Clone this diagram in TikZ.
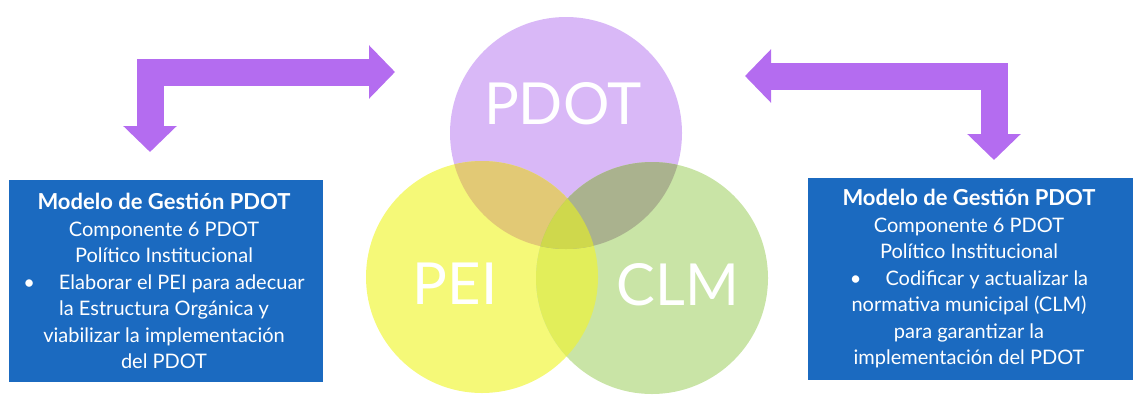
\documentclass[tikz,border=0pt]{standalone}
\usepackage{fontspec}
\setmainfont{Lato}
\usetikzlibrary{arrows.meta}
\definecolor{pP}{HTML}{D9B8F7}
\definecolor{pY}{HTML}{F5F978}
\definecolor{pG}{HTML}{C9E4A6}
\definecolor{pPY}{HTML}{E2C975}
\definecolor{pPG}{HTML}{AAB28E}
\definecolor{pYG}{HTML}{E2EE5A}
\definecolor{pPYG}{HTML}{CFD84C}
\definecolor{arr}{HTML}{B46CF0}
\definecolor{boxblue}{HTML}{1B6AC0}
\tikzset{
  bigarrow/.style={draw=arr, line width=27pt, line join=miter,
    {Triangle[length=26pt,width=52pt]}-{Triangle[length=26pt,width=52pt]}},
  infobox/.style={fill=boxblue, text=white, align=center, font=\fontsize{20}{26.5}\selectfont, inner sep=0pt},
  circlabel/.style={text=white, font=\fontsize{58}{60}\selectfont}
}
\newcommand{\boxtitle}[1]{{\fontsize{22}{26.5}\selectfont\bfseries #1}}
\newcommand{\bul}{\textbullet\hspace{1.2em}}
\begin{document}
\begin{tikzpicture}[x=1pt,y=-1pt]
\useasboundingbox (0,0) rectangle (1135,394);
\def\rr{116}
% circles
\fill[pP] (566,133) circle (\rr);
\fill[pY] (482,277) circle (\rr);
\fill[pG] (652,278) circle (\rr);
\begin{scope}
  \clip (482,277) circle (\rr);
  \fill[pPY] (566,133) circle (\rr);
  \fill[pYG] (652,278) circle (\rr);
\end{scope}
\begin{scope}
  \clip (652,278) circle (\rr);
  \fill[pPG] (566,133) circle (\rr);
\end{scope}
\begin{scope}
  \clip (482,277) circle (\rr);
  \clip (652,278) circle (\rr);
  \fill[pPYG] (566,133) circle (\rr);
\end{scope}
\node[circlabel] (pdot) at (563,104) {PDOT};
\node[circlabel] (pei) at (455,284) {PEI};
\node[circlabel] (clm) at (678,285) {CLM};
% boxes
\fill[boxblue] (9,180) rectangle (323,382);
\fill[boxblue] (808,178) rectangle (1133,380);
\node[infobox] (lbox) at (164,281) {\boxtitle{Modelo de Gestión PDOT}\\Componente 6 PDOT\\Político Institucional\\\bul Elaborar el PEI para adecuar\\la Estructura Orgánica y\\viabilizar la implementación\\del PDOT};
\node[infobox] (rbox) at (969,279) {\boxtitle{Modelo de Gestión PDOT}\\Componente 6 PDOT\\Político Institucional\\\bul Codificar y actualizar la\\normativa municipal (CLM)\\para garantizar la\\implementación del PDOT};
% arrows
\coordinate (la) at (395,72);
\coordinate (lb) at (150,152);
\coordinate (ra) at (745,76);
\coordinate (rb) at (994,160);
\draw[bigarrow] (la) -| (lb);
\draw[bigarrow] (ra) -| (rb);
\end{tikzpicture}
\end{document}
